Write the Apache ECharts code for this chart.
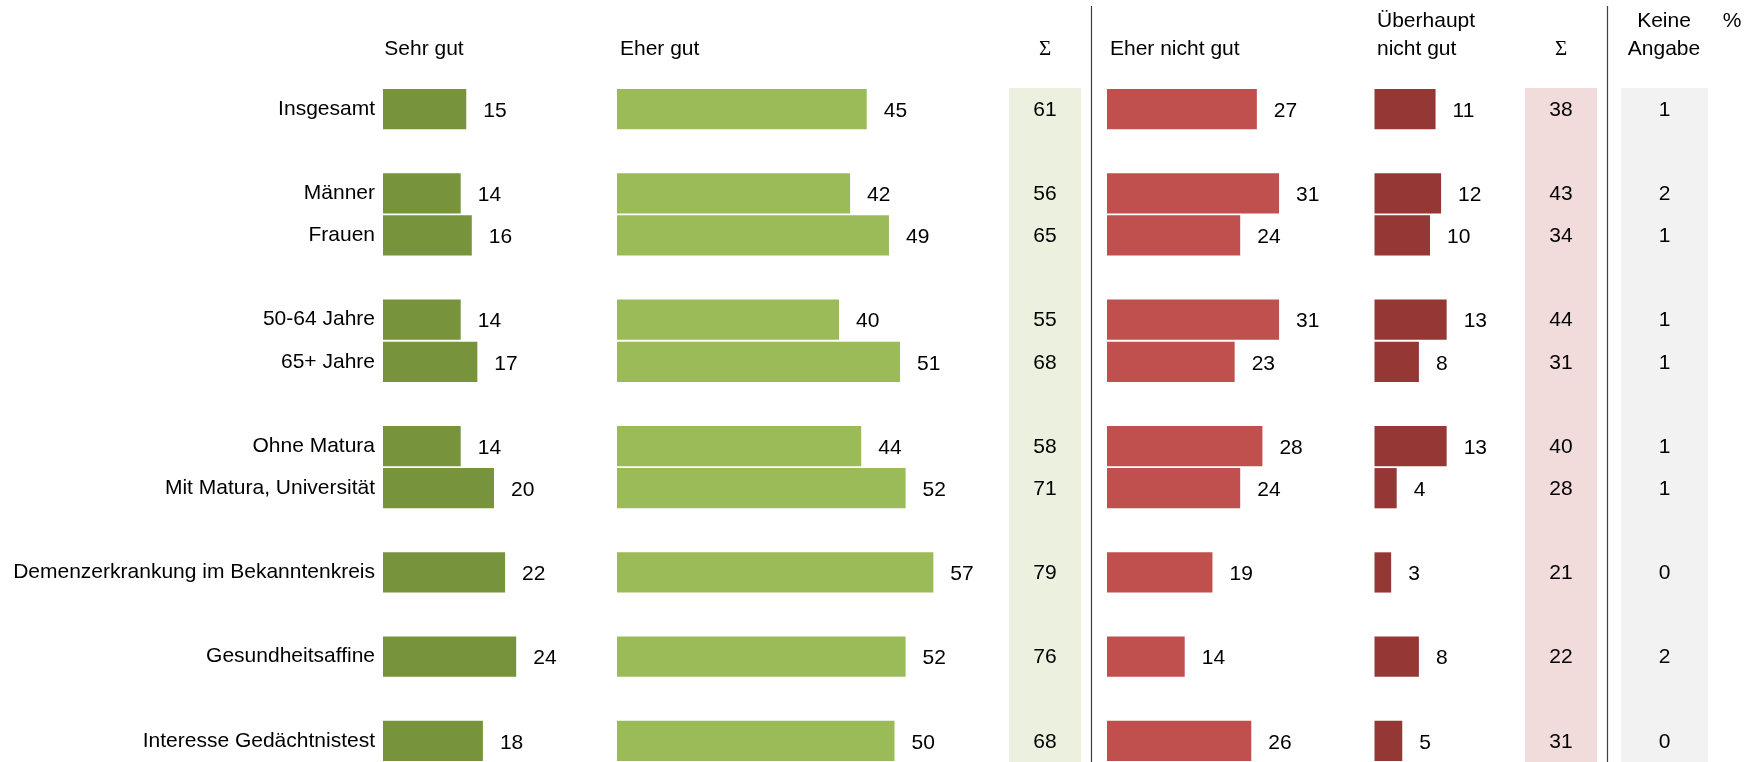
<!DOCTYPE html>
<html><head><meta charset="utf-8">
<script src="https://cdn.jsdelivr.net/npm/echarts@6/dist/echarts.min.js"></script>
<style>html,body{margin:0;padding:0;background:#fff}#c{width:1761px;height:762px}</style>
</head><body><div id="c"></div>
<script>
// ---- data ----
const categories = ['Insgesamt','Männer','Frauen','50-64 Jahre','65+ Jahre','Ohne Matura','Mit Matura, Universität','Demenzerkrankung im Bekanntenkreis','Gesundheitsaffine','Interesse Gedächtnistest'];
const groupSizes = [1,2,2,2,1,1,1];
const sehrGut = [15,14,16,14,17,14,20,22,24,18];
const eherGut = [45,42,49,40,51,44,52,57,52,50];
const sumGut = [61,56,65,55,68,58,71,79,76,68];
const eherNichtGut = [27,31,24,31,23,28,24,19,14,26];
const ueberhauptNichtGut = [11,12,10,13,8,13,4,3,8,5];
const sumNichtGut = [38,43,34,44,31,40,28,21,22,31];
const keineAngabe = [1,2,1,1,1,1,1,0,2,0];

// ---- build slot layout (blank row between groups) ----
const slotLabels = [];
const slotIndex = [];
(function(){
  let ci = 0;
  groupSizes.forEach((g, gi) => {
    if (gi > 0) slotLabels.push('');
    for (let k = 0; k < g; k++) {
      slotIndex.push(slotLabels.length);
      slotLabels.push(categories[ci++]);
    }
  });
})();
function toSlots(arr){
  const out = slotLabels.map(() => '-');
  arr.forEach((v, i) => { out[slotIndex[i]] = v; });
  return out;
}
function toCells(arr){
  return arr.map((v, i) => [0, slotIndex[i], v]);
}

const FONT = '"Liberation Sans", Arial, sans-serif';
const FS = 21;
const TOP = 88;
const SLOT = 42.3;
const H = SLOT * slotLabels.length;
const AXMAX = 60;
const PXU = 5.55;

const barCols = [
  {left: 383,    data: sehrGut,            color: '#77933C'},
  {left: 617,    data: eherGut,            color: '#9BBB59'},
  {left: 1107,   data: eherNichtGut,       color: '#C0504D'},
  {left: 1374.5, data: ueberhauptNichtGut, color: '#953735'}
];
const cellCols = [
  {left: 1009, width: 72, data: sumGut,      bg: '#EBF1DE'},
  {left: 1525, width: 72, data: sumNichtGut, bg: '#F2DCDB'},
  {left: 1621, width: 87, data: keineAngabe, bg: '#F2F2F2'}
];

const grid = [], xAxis = [], yAxis = [], series = [];
barCols.forEach((c, i) => {
  const gi = grid.length;
  grid.push({left: c.left, top: TOP, width: AXMAX * PXU, height: H, containLabel: false});
  xAxis.push({type: 'value', gridIndex: gi, min: 0, max: AXMAX, show: false});
  yAxis.push({
    type: 'category', gridIndex: gi, data: slotLabels, inverse: true,
    show: gi === 0,
    axisLine: {show: false}, axisTick: {show: false}, splitLine: {show: false},
    axisLabel: {show: gi === 0, margin: 8, padding: [3, 0, 0, 0], fontSize: FS, fontFamily: FONT, color: '#000', interval: 0}
  });
  series.push({
    type: 'bar', xAxisIndex: gi, yAxisIndex: gi, data: toSlots(c.data),
    barCategoryGap: '4.5%', silent: true,
    itemStyle: {color: c.color},
    label: {show: true, position: 'right', distance: 17, offset: [0, 2], fontSize: FS, fontFamily: FONT, color: '#000'}
  });
});
cellCols.forEach((c) => {
  const gi = grid.length;
  grid.push({left: c.left, top: TOP, width: c.width, height: H, show: true, backgroundColor: c.bg, borderWidth: 0, containLabel: false});
  xAxis.push({type: 'value', gridIndex: gi, min: -1, max: 1, show: false});
  yAxis.push({type: 'category', gridIndex: gi, data: slotLabels, inverse: true, show: false});
  series.push({
    type: 'scatter', xAxisIndex: gi, yAxisIndex: gi, data: toCells(c.data),
    symbolSize: 0, silent: true, itemStyle: {color: '#000', opacity: 1},
    label: {show: true, position: 'inside', offset: [0, 1], formatter: p => p.value[2], fontSize: FS, fontFamily: FONT, color: '#000', opacity: 1}
  });
});

function txt(text, x, y, align, font){
  return {type: 'text', x: x, y: y, silent: true,
    style: {text: text, fontSize: FS, fontFamily: font || FONT, fill: '#000', align: align, verticalAlign: 'middle'}};
}
function vline(x){
  return {type: 'line', silent: true, shape: {x1: x, y1: 6, x2: x, y2: 762}, style: {stroke: '#404040', lineWidth: 1.2}};
}

const graphic = [
  txt('Sehr gut', 424, 49, 'center'),
  txt('Eher gut', 620, 49, 'left'),
  txt('Σ', 1045, 49, 'center', '"Liberation Serif", serif'),
  txt('Eher nicht gut', 1110, 49, 'left'),
  txt('Überhaupt', 1377, 21, 'left'),
  txt('nicht gut', 1377, 49, 'left'),
  txt('Σ', 1561, 49, 'center', '"Liberation Serif", serif'),
  txt('Keine', 1664, 21, 'center'),
  txt('Angabe', 1664, 49, 'center'),
  txt('%', 1732, 21, 'center'),
  vline(1091.5),
  vline(1607.5)
];

const chart = echarts.init(document.getElementById('c'), null, {renderer: 'canvas'});
chart.setOption({
  animation: false,
  backgroundColor: '#fff',
  grid: grid, xAxis: xAxis, yAxis: yAxis, series: series,
  graphic: graphic
});
</script>
</body></html>
